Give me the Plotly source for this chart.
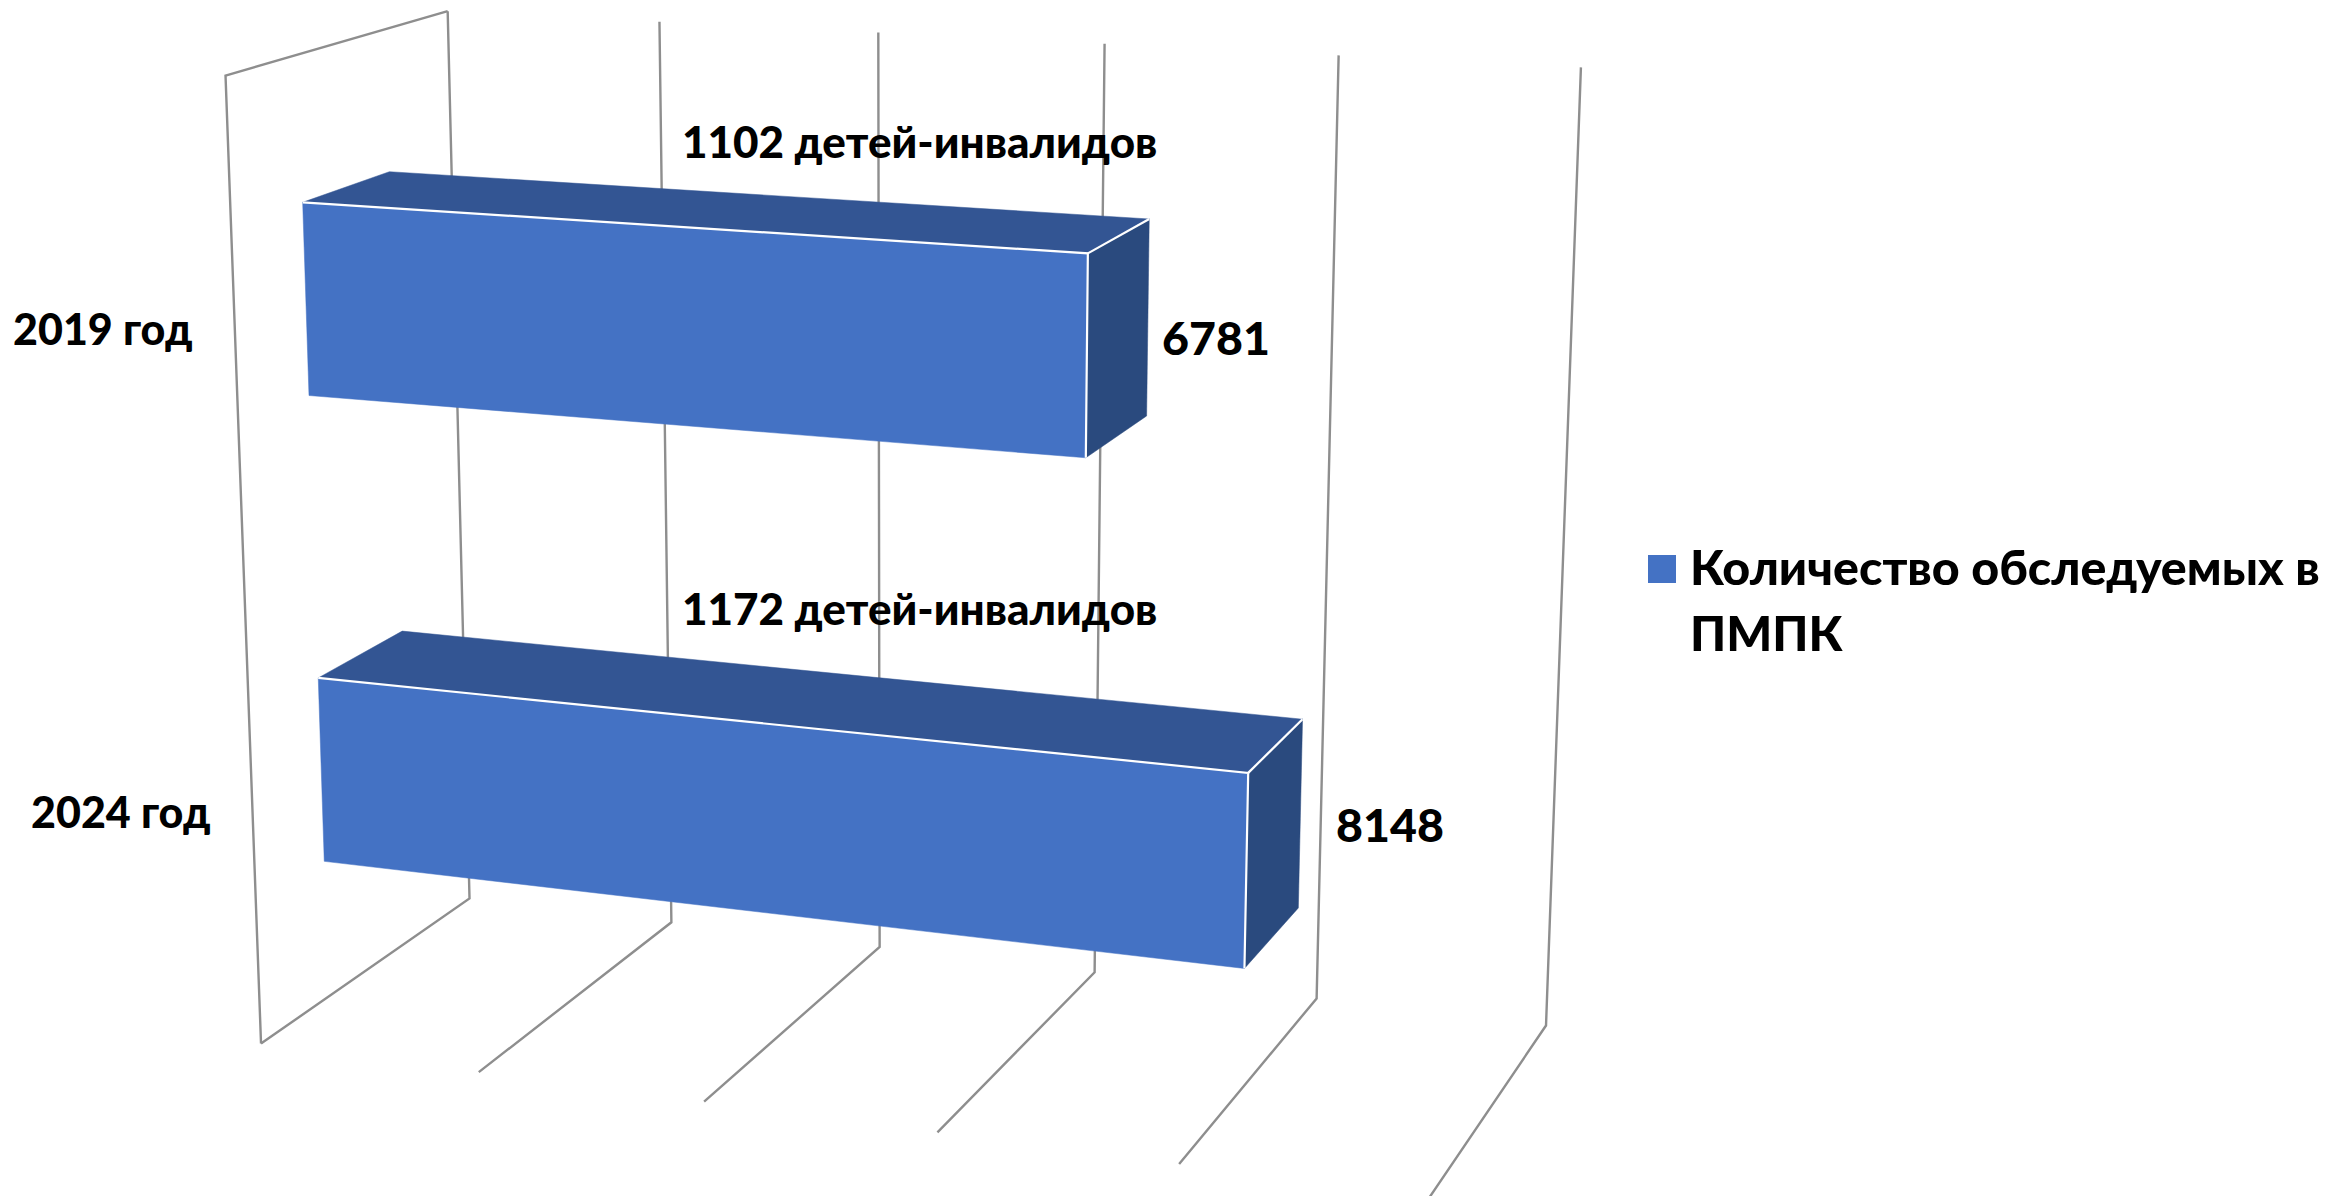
import numpy as np
import plotly.graph_objects as go

# ---- data ----
categories = ["2019 год", "2024 год"]
values = [6781, 8148]
disabled_labels = ["1102 детей-инвалидов", "1172 детей-инвалидов"]
series_name = "Количество обследуемых в<br>ПМПК"
grid_values = [0, 2000, 4000, 6000, 8000, 10000]
axis_max = 10000

# ---- 3D box model: camera matrix calibrated to the chart's view ----
CAMERA = np.array([
    [1048.5379094, 252.944852, -47.2919276, 261.0298622],
    [52.8553025, -59.9490988, -971.897484, 1043.5476765],
    [-0.0840369, 0.0947134, -0.0522328, 1.0],
])
DEPTH_FRONT, DEPTH_BACK = 0.305, 0.70
GAP = 0.15  # share of each category band left empty above/below the bar

BLUE_FRONT = "#4472C4"
BLUE_TOP = "#335593"
BLUE_SIDE = "#2A4A7E"
GRID = "#8E8E8E"
FONT = "Lato, Carlito, Noto Sans, sans-serif"


def project(value, depth, height):
    h = CAMERA @ np.array([value / axis_max, depth, height, 1.0])
    return h[0] / h[2], h[1] / h[2]


def path(points):
    xy = [project(*p) for p in points]
    return [p[0] for p in xy], [p[1] for p in xy]


fig = go.Figure()


def add_line(points, color, width):
    x, y = path(points)
    fig.add_trace(go.Scatter(x=x, y=y, mode="lines", showlegend=False, hoverinfo="skip",
                             line=dict(color=color, width=width)))


def add_face(points, color):
    x, y = path(points + points[:1])
    fig.add_trace(go.Scatter(x=x, y=y, mode="lines", fill="toself", fillcolor=color,
                             line=dict(color=color, width=0.5), showlegend=False, hoverinfo="skip"))


# walls: gridlines run along the floor and up the back wall
for g in grid_values:
    add_line([(g, 0, 0), (g, 1, 0), (g, 1, 1)], GRID, 2.4)
add_line([(0, 0, 0), (0, 0, 1), (0, 1, 1)], GRID, 2.4)

n = len(categories)
for i, v in enumerate(values):
    band_top = 1 - i / n
    z1 = band_top - GAP
    z0 = band_top - 1 / n + GAP
    d0, d1 = DEPTH_FRONT, DEPTH_BACK
    add_face([(0, d0, z1), (0, d1, z1), (v, d1, z1), (v, d0, z1)], BLUE_TOP)
    add_face([(v, d0, z1), (v, d1, z1), (v, d1, z0), (v, d0, z0)], BLUE_SIDE)
    add_face([(0, d0, z1), (v, d0, z1), (v, d0, z0), (0, d0, z0)], BLUE_FRONT)
    add_line([(0, d0, z1), (v, d0, z1), (v, d0, z0)], "white", 2.2)
    add_line([(v, d0, z1), (v, d1, z1)], "white", 2.2)

# legend swatch
fig.add_trace(go.Scatter(x=[1662], y=[569], mode="markers", name=series_name.replace("<br>", " "),
                         marker=dict(symbol="square", size=28, color=BLUE_FRONT),
                         showlegend=False, hoverinfo="skip"))


def label(text, x, y, size):
    fig.add_annotation(x=x, y=y, text=text, showarrow=False, xanchor="left", yanchor="middle",
                       align="left", font=dict(family=FONT, size=size, color="black", weight=900))


for c, (x, y) in zip(categories, [(11, 328), (29, 811)]):
    label(c, x, y, 43)
for c, (x, y) in zip(disabled_labels, [(680, 141), (680, 608)]):
    label(c, x, y, 44)
for v, (x, y) in zip(values, [(1160, 337), (1334, 824)]):
    label(str(v), x, y, 46.5)
a, b = series_name.split("<br>")
label(a, 1688, 566, 48.4)
label(b, 1688, 632, 48.4)

fig.update_layout(
    width=2330, height=1196, margin=dict(l=0, r=0, t=0, b=0),
    paper_bgcolor="white", plot_bgcolor="white", showlegend=False,
    xaxis=dict(range=[0, 2330], visible=False, fixedrange=True),
    yaxis=dict(range=[1196, 0], visible=False, fixedrange=True),
)
fig.write_html("out.html", post_script="document.body.style.margin='0';",
               config={"displayModeBar": False})
